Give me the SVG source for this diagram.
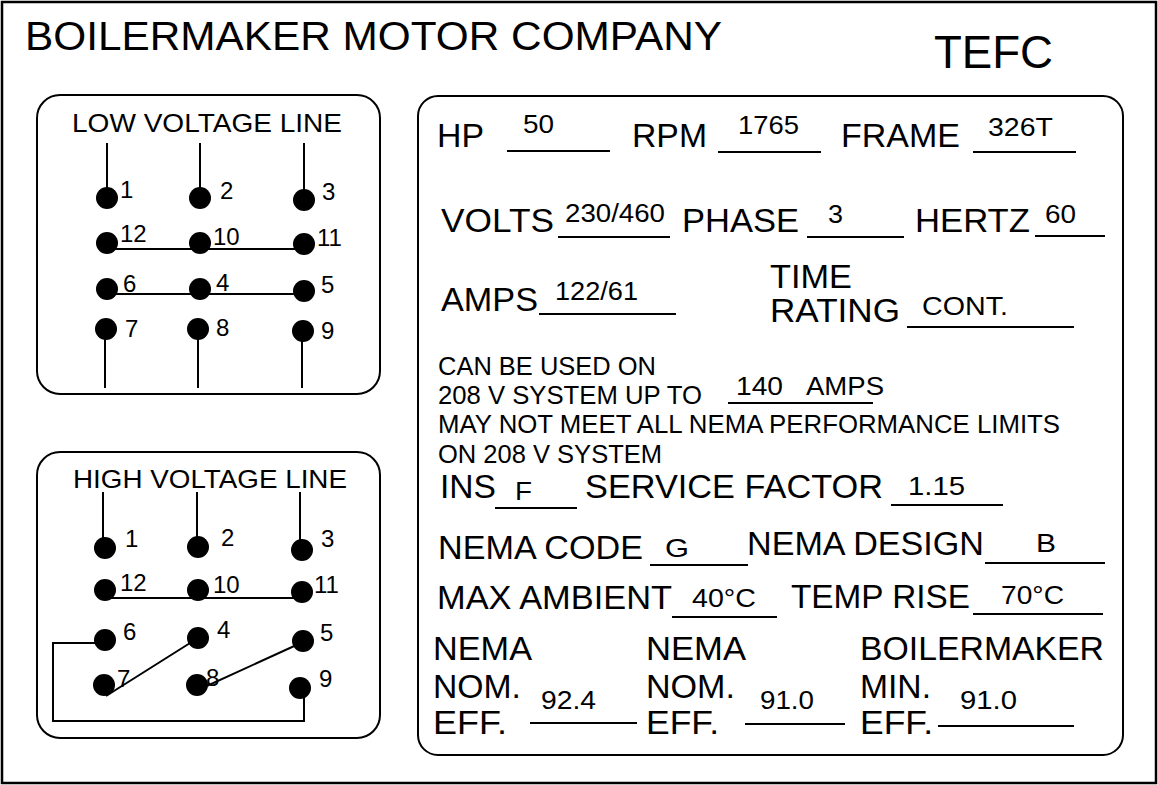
<svg xmlns="http://www.w3.org/2000/svg" width="1158" height="785" viewBox="0 0 1158 785">
<style>
text{font-family:"Liberation Sans",Arial,Helvetica,sans-serif;fill:#000}
.t{font-size:41px}
.tf{font-size:46px}
.h{font-size:26px}
.n{font-size:24px}
.l{font-size:33px}
.v{font-size:26px}
.s{font-size:25px}
.frame{fill:#fff;stroke:#000;stroke-width:2.5}
.panel{fill:none;stroke:#000;stroke-width:2}
.w{fill:none;stroke:#000;stroke-width:2}
.u{stroke:#000;stroke-width:2}
.d{fill:#000}
</style>
<rect class="frame" x="2" y="2" width="1154" height="781"/>
<g id="header">
<text class="t" x="25" y="50" textLength="697" lengthAdjust="spacingAndGlyphs">BOILERMAKER MOTOR COMPANY</text>
<text class="tf" x="934" y="68" textLength="119" lengthAdjust="spacingAndGlyphs">TEFC</text>
</g>
<g id="low-voltage">
<rect class="panel" x="37" y="95" width="343" height="299" rx="23"/>
<text class="h" x="72" y="132" textLength="270" lengthAdjust="spacingAndGlyphs">LOW VOLTAGE LINE</text>
<g class="w">
<path d="M107 143V198M200 143V198M304 143V200"/>
<path d="M107 249H304M107 294H304"/>
<path d="M105 329V388M198 329V388M302 331V388"/>
</g>
<g class="d">
<circle cx="107" cy="198" r="11"/><circle cx="200" cy="198" r="11"/><circle cx="304" cy="200" r="11"/>
<circle cx="107" cy="243" r="11"/><circle cx="200" cy="243" r="11"/><circle cx="304" cy="244" r="11"/>
<circle cx="107" cy="289" r="11"/><circle cx="200" cy="289" r="11"/><circle cx="304" cy="291" r="11"/>
<circle cx="106" cy="329" r="11"/><circle cx="198" cy="329" r="11"/><circle cx="303" cy="331" r="11"/>
</g>
<text class="n" x="120" y="198">1</text><text class="n" x="220" y="199">2</text><text class="n" x="322" y="200">3</text>
<text class="n" x="120" y="242">12</text><text class="n" x="213" y="245">10</text><text class="n" x="317" y="246">11</text>
<text class="n" x="123" y="292">6</text><text class="n" x="216" y="291">4</text><text class="n" x="321" y="293">5</text>
<text class="n" x="125" y="337">7</text><text class="n" x="216" y="336">8</text><text class="n" x="321" y="339">9</text>
</g>
<g id="high-voltage">
<rect class="panel" x="37" y="452" width="343" height="286" rx="23"/>
<text class="h" x="73" y="488" textLength="274" lengthAdjust="spacingAndGlyphs">HIGH VOLTAGE LINE</text>
<g class="w">
<path d="M103 492V548M197 492V547M300 492V550"/>
<path d="M105 598H302"/>
<path d="M100 643H53V721H304V688"/>
<path d="M106 696L198 638"/>
<path d="M198 690L303 642"/>
</g>
<g class="d">
<circle cx="105" cy="548" r="11"/><circle cx="198" cy="547" r="11"/><circle cx="302" cy="550" r="11"/>
<circle cx="105" cy="590" r="11"/><circle cx="198" cy="590" r="11"/><circle cx="302" cy="592" r="11"/>
<circle cx="105" cy="640" r="11"/><circle cx="198" cy="638" r="11"/><circle cx="303" cy="641" r="11"/>
<circle cx="104" cy="685" r="11"/><circle cx="197" cy="685" r="11"/><circle cx="300" cy="688" r="11"/>
</g>
<text class="n" x="125" y="547">1</text><text class="n" x="221" y="546">2</text><text class="n" x="321" y="547">3</text>
<text class="n" x="120" y="591">12</text><text class="n" x="213" y="593">10</text><text class="n" x="314" y="593">11</text>
<text class="n" x="123" y="640">6</text><text class="n" x="217" y="638">4</text><text class="n" x="320" y="641">5</text>
<text class="n" x="117" y="687">7</text><text class="n" x="206" y="686">8</text><text class="n" x="319" y="687">9</text>
</g>
<g id="ratings">
<rect class="panel" x="418" y="96" width="705" height="659" rx="20"/>
<g class="u">
<path d="M507 151H610M718 152H821M973 152H1076"/>
<path d="M558 237H670M807 237H904M1035 236H1105"/>
<path d="M539 314H676M907 327H1074"/>
<path d="M728 403H873"/>
<path d="M495 508H577M891 505H1003"/>
<path d="M650 565H748M985 563H1105"/>
<path d="M672 617H777M973 614H1103"/>
<path d="M530 723H637M745 724H845M938 726H1074"/>
</g>
<text class="l" x="437" y="147" textLength="47" lengthAdjust="spacingAndGlyphs">HP</text>
<text class="v" x="523" y="133" textLength="31" lengthAdjust="spacingAndGlyphs">50</text>
<text class="l" x="632" y="147" textLength="75" lengthAdjust="spacingAndGlyphs">RPM</text>
<text class="v" x="738" y="134" textLength="61" lengthAdjust="spacingAndGlyphs">1765</text>
<text class="l" x="841" y="147" textLength="119" lengthAdjust="spacingAndGlyphs">FRAME</text>
<text class="v" x="988" y="136" textLength="65" lengthAdjust="spacingAndGlyphs">326T</text>
<text class="l" x="441" y="232" textLength="113" lengthAdjust="spacingAndGlyphs">VOLTS</text>
<text class="v" x="565" y="222" textLength="100" lengthAdjust="spacingAndGlyphs">230/460</text>
<text class="l" x="682" y="232" textLength="117" lengthAdjust="spacingAndGlyphs">PHASE</text>
<text class="v" x="828" y="223" textLength="15" lengthAdjust="spacingAndGlyphs">3</text>
<text class="l" x="915" y="232" textLength="115" lengthAdjust="spacingAndGlyphs">HERTZ</text>
<text class="v" x="1045" y="223" textLength="31" lengthAdjust="spacingAndGlyphs">60</text>
<text class="l" x="441" y="311" textLength="97" lengthAdjust="spacingAndGlyphs">AMPS</text>
<text class="v" x="555" y="300" textLength="83" lengthAdjust="spacingAndGlyphs">122/61</text>
<text class="l" x="770" y="288" textLength="82" lengthAdjust="spacingAndGlyphs">TIME</text>
<text class="l" x="770" y="322" textLength="130" lengthAdjust="spacingAndGlyphs">RATING</text>
<text class="v" x="922" y="315" textLength="86" lengthAdjust="spacingAndGlyphs">CONT.</text>
<text class="s" x="438" y="375" textLength="218" lengthAdjust="spacingAndGlyphs">CAN BE USED ON</text>
<text class="s" x="438" y="404" textLength="264" lengthAdjust="spacingAndGlyphs">208 V SYSTEM UP TO</text>
<text class="v" x="736" y="395" textLength="47" lengthAdjust="spacingAndGlyphs">140</text>
<text class="v" x="806" y="395" textLength="78" lengthAdjust="spacingAndGlyphs">AMPS</text>
<text class="s" x="438" y="433" textLength="622" lengthAdjust="spacingAndGlyphs">MAY NOT MEET ALL NEMA PERFORMANCE LIMITS</text>
<text class="s" x="438" y="463" textLength="224" lengthAdjust="spacingAndGlyphs">ON 208 V SYSTEM</text>
<text class="l" x="440" y="498" textLength="56" lengthAdjust="spacingAndGlyphs">INS</text>
<text class="v" x="515" y="500" textLength="17" lengthAdjust="spacingAndGlyphs">F</text>
<text class="l" x="585" y="498" textLength="298" lengthAdjust="spacingAndGlyphs">SERVICE FACTOR</text>
<text class="v" x="908" y="495" textLength="57" lengthAdjust="spacingAndGlyphs">1.15</text>
<text class="l" x="438" y="559" textLength="205" lengthAdjust="spacingAndGlyphs">NEMA CODE</text>
<text class="v" x="665" y="557" textLength="24" lengthAdjust="spacingAndGlyphs">G</text>
<text class="l" x="747" y="555" textLength="237" lengthAdjust="spacingAndGlyphs">NEMA DESIGN</text>
<text class="v" x="1036" y="552" textLength="20" lengthAdjust="spacingAndGlyphs">B</text>
<text class="l" x="437" y="609" textLength="235" lengthAdjust="spacingAndGlyphs">MAX AMBIENT</text>
<text class="v" x="692" y="607" textLength="64" lengthAdjust="spacingAndGlyphs">40°C</text>
<text class="l" x="791" y="608" textLength="179" lengthAdjust="spacingAndGlyphs">TEMP RISE</text>
<text class="v" x="1001" y="604" textLength="63" lengthAdjust="spacingAndGlyphs">70°C</text>
<text class="l" x="433" y="660" textLength="99" lengthAdjust="spacingAndGlyphs">NEMA</text>
<text class="l" x="433" y="698" textLength="88" lengthAdjust="spacingAndGlyphs">NOM.</text>
<text class="l" x="433" y="734" textLength="74" lengthAdjust="spacingAndGlyphs">EFF.</text>
<text class="v" x="541" y="709" textLength="55" lengthAdjust="spacingAndGlyphs">92.4</text>
<text class="l" x="646" y="660" textLength="100" lengthAdjust="spacingAndGlyphs">NEMA</text>
<text class="l" x="646" y="698" textLength="89" lengthAdjust="spacingAndGlyphs">NOM.</text>
<text class="l" x="646" y="734" textLength="73" lengthAdjust="spacingAndGlyphs">EFF.</text>
<text class="v" x="760" y="709" textLength="54" lengthAdjust="spacingAndGlyphs">91.0</text>
<text class="l" x="860" y="660" textLength="244" lengthAdjust="spacingAndGlyphs">BOILERMAKER</text>
<text class="l" x="860" y="698" textLength="71" lengthAdjust="spacingAndGlyphs">MIN.</text>
<text class="l" x="860" y="734" textLength="73" lengthAdjust="spacingAndGlyphs">EFF.</text>
<text class="v" x="960" y="709" textLength="57" lengthAdjust="spacingAndGlyphs">91.0</text>
</g>
</svg>
